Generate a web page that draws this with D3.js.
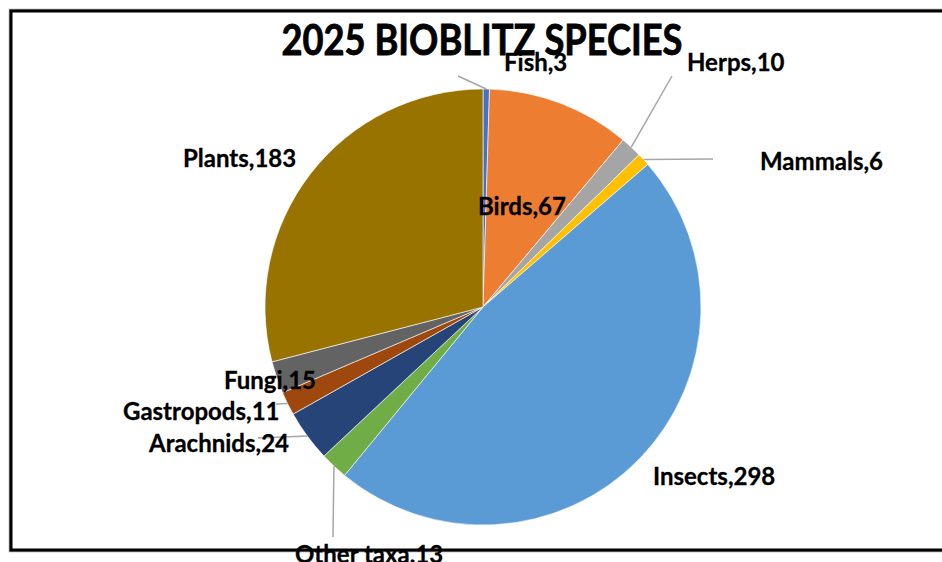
<!DOCTYPE html>
<html>
<head>
<meta charset="utf-8">
<script src="https://cdn.jsdelivr.net/npm/d3@7"></script>
<style>
  html, body { margin: 0; padding: 0; background: #fff; }
  svg { display: block; }
  text { font-family: "Liberation Sans Narrow", "Arial Narrow", Lato, sans-serif; font-weight: bold; fill: #000; }
</style>
</head>
<body>
<svg id="chart" width="942" height="562"></svg>
<script>
// ---- data ----
const title = "2025 BIOBLITZ SPECIES";
const categories = ["Fish", "Birds", "Herps", "Mammals", "Insects", "Other taxa", "Arachnids", "Gastropods", "Fungi", "Plants"];
const values = [3, 67, 10, 6, 298, 13, 24, 11, 15, 183];
const colors = ["#4472C4", "#ED7D31", "#A5A5A5", "#FFC000", "#5B9BD5", "#70AD47", "#264478", "#9E480E", "#636363", "#997300"];

// ---- layout (label anchor: start x, baseline y; leader start or null) ----
const labelLayout = [
  { x: 504, y: 71, leader: [458, 76] },
  { x: 478, y: 215, leader: null },
  { x: 687, y: 71, leader: [672, 76] },
  { x: 760, y: 170, leader: [713, 159] },
  { x: 653, y: 485, leader: null },
  { x: 295, y: 563, leader: [333, 537] },
  { x: 149, y: 452, leader: [258, 438] },
  { x: 123, y: 420, leader: [276, 404] },
  { x: 224, y: 389, leader: null },
  { x: 183, y: 167, leader: null }
];

const svg = d3.select("#chart");
const cx = 483, cy = 307, R = 218;

// frame
svg.append("rect").attr("x", 11).attr("y", 11).attr("width", 960).attr("height", 539)
  .attr("fill", "#fff").attr("stroke", "#999").attr("stroke-width", 4.5);
svg.append("rect").attr("x", 11).attr("y", 11).attr("width", 960).attr("height", 539)
  .attr("fill", "#fff").attr("stroke", "#000").attr("stroke-width", 3);

const pie = d3.pie().sort(null).value(d => d.value);
const arcs = pie(categories.map((c, i) => ({ name: c, value: values[i], color: colors[i] })));
const arc = d3.arc().innerRadius(0).outerRadius(R);

const g = svg.append("g").attr("transform", `translate(${cx},${cy})`);
g.selectAll("path.slice").data(arcs).join("path")
  .attr("class", "slice")
  .attr("d", arc)
  .attr("fill", d => d.data.color)
  .attr("stroke", "#fff").attr("stroke-width", 0.6);

// leader lines
arcs.forEach((d, i) => {
  const L = labelLayout[i];
  if (!L.leader) return;
  const mid = (d.startAngle + d.endAngle) / 2;
  const ex = cx + R * Math.sin(mid), ey = cy - R * Math.cos(mid);
  svg.append("line")
    .attr("x1", L.leader[0]).attr("y1", L.leader[1])
    .attr("x2", ex).attr("y2", ey)
    .attr("stroke", "#a6a6a6").attr("stroke-width", 1.5);
});

// labels
arcs.forEach((d, i) => {
  const L = labelLayout[i];
  svg.append("text")
    .attr("x", L.x).attr("y", L.y)
    .attr("font-size", 24)
    .attr("stroke", "#000").attr("stroke-width", 0.3)
    .text(`${d.data.name},${d.data.value}`);
});

// title
svg.append("text").attr("x", 482).attr("y", 55)
  .attr("text-anchor", "middle").attr("font-size", 42)
  .attr("font-weight", 900)
  .attr("stroke", "#000").attr("stroke-width", 0.8)
  .attr("textLength", 401).attr("lengthAdjust", "spacingAndGlyphs")
  .text(title);
</script>
</body>
</html>
